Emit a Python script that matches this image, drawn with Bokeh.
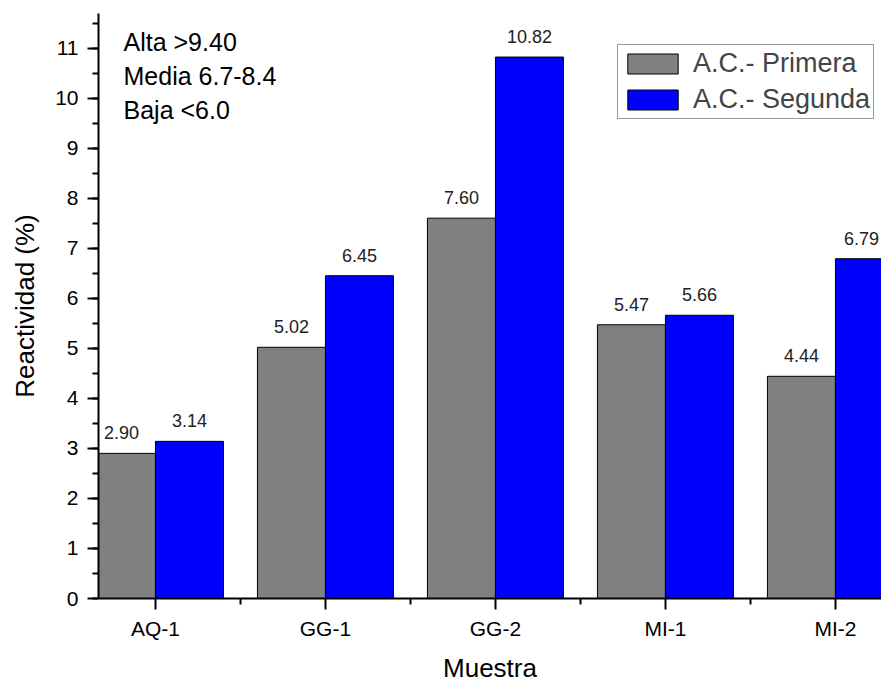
from bokeh.plotting import figure
from bokeh.models import (ColumnDataSource, FixedTicker, SingleIntervalTicker, Range1d,
                          LabelSet, Label, Legend, LegendItem)
from bokeh.core.properties import value
from bokeh.transform import dodge
from bokeh.embed import file_html
from bokeh.resources import INLINE

categories = ["AQ-1", "GG-1", "GG-2", "MI-1", "MI-2"]
primera = [2.90, 5.02, 7.60, 5.47, 4.44]
segunda = [3.14, 6.45, 10.82, 5.66, 6.79]
series_names = ["A.C.- Primera", "A.C.- Segunda"]
notes = ["Alta  >9.40", "Media  6.7-8.4", "Baja  <6.0"]
x_title = "Muestra"
y_title = "Reactividad (%)"

pos = list(range(1, len(categories) + 1))
# keep the last value label inside the picture (it sits at the clipped right edge)
seg_label_shift = [0, 0, 0, 0, -8]
src = ColumnDataSource(dict(
    x=pos, cat=categories, p=primera, s=segunda,
    pl=[f"{v:.2f}" for v in primera], sl=[f"{v:.2f}" for v in segunda],
    po=[0] * len(pos), so=seg_label_shift))

FONT = "Liberation Sans"
p = figure(width=881, height=685, output_backend="svg", toolbar_location=None,
           x_range=Range1d(0.665, 5.271), y_range=Range1d(0, 11.69),
           min_border_left=98, min_border_right=0, min_border_top=13, min_border_bottom=87)
p.outline_line_color = None
p.xgrid.grid_line_color = None
p.ygrid.grid_line_color = None
p.background_fill_color = "white"
p.border_fill_color = "white"

r1 = p.vbar(x=dodge("x", -0.2, range=p.x_range), top="p", width=0.4, bottom=0, source=src,
            fill_color="#808080", line_color="black", line_width=1)
r2 = p.vbar(x=dodge("x", 0.2, range=p.x_range), top="s", width=0.4, bottom=0, source=src,
            fill_color="#0000FF", line_color="black", line_width=1)

for col, lab, off, xo in (("p", "pl", -0.2, "po"), ("s", "sl", 0.2, "so")):
    ls = LabelSet(x=dodge("x", off, range=p.x_range), y=col, text=lab, source=src,
                  text_align="center", text_baseline="alphabetic", y_offset=14, x_offset=xo,
                  text_font=value(FONT), text_font_size=value("18px"), text_color="#222222")
    p.add_layout(ls)

# axes
xa = p.xaxis[0]
xa.ticker = FixedTicker(ticks=pos, minor_ticks=[v + 0.5 for v in pos])
xa.major_label_overrides = {i: c for i, c in zip(pos, categories)}
ya = p.yaxis[0]
ya.ticker = SingleIntervalTicker(interval=1, num_minor_ticks=2)
for ax in (xa, ya):
    ax.axis_line_width = 2
    ax.axis_line_color = "black"
    ax.major_tick_line_width = 2
    ax.minor_tick_line_width = 2
    ax.major_tick_in = 0
    ax.major_tick_out = 11
    ax.minor_tick_in = 0
    ax.minor_tick_out = 6
    ax.major_label_text_font = FONT
    ax.major_label_text_font_size = "21px"
    ax.major_label_text_color = "black"
    ax.axis_label_text_font = FONT
    ax.axis_label_text_font_size = "26px"
    ax.axis_label_text_font_style = "normal"
    ax.axis_label_text_color = "black"
xa.axis_label = x_title
ya.axis_label = y_title
xa.major_label_standoff = 7
ya.major_label_standoff = 9
xa.axis_label_standoff = 10
ya.axis_label_standoff = 12

legend = Legend(items=[LegendItem(label=series_names[0], renderers=[r1]),
                       LegendItem(label=series_names[1], renderers=[r2])],
                location=(519, 479))
legend.label_text_font = FONT
legend.label_text_font_size = "27px"
legend.glyph_width = 63
legend.glyph_height = 25
legend.label_standoff = 9
legend.padding = 3
legend.spacing = 5
legend.margin = 0
legend.border_line_color = "#333333"
legend.border_line_width = 1
legend.background_fill_alpha = 1
p.add_layout(legend)

for i, t in enumerate(notes):
    p.add_layout(Label(x=25, y=557 - 34 * i, x_units="screen", y_units="screen", text=t,
                       text_font=FONT, text_font_size="25px", text_baseline="alphabetic",
                       text_color="black"))

open("out.html", "w").write(file_html(p, INLINE))
